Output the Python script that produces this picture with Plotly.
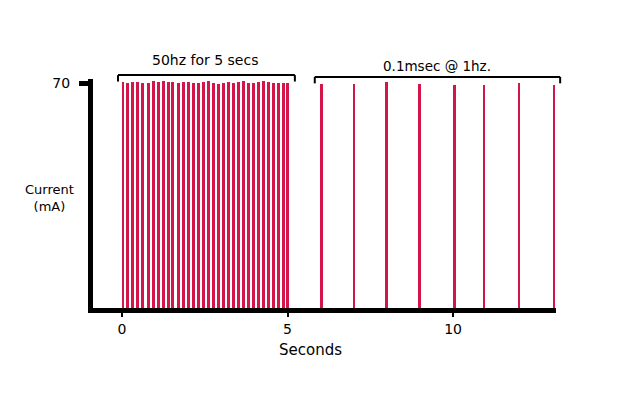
import plotly.graph_objects as go

# Pulse train 1: "50hz for 5 secs" (drawn pulses)
train1_t = [0.03, 0.18, 0.33, 0.48, 0.63, 0.79, 0.94, 1.09, 1.24, 1.39, 1.54, 1.70,
            1.85, 2.00, 2.15, 2.30, 2.45, 2.61, 2.76, 2.91, 3.06, 3.21, 3.36, 3.52,
            3.67, 3.82, 3.97, 4.12, 4.27, 4.42, 4.58, 4.73, 4.88, 5.00]
train1_mA = [70.2, 70.0, 70.3, 70.4, 70.1, 69.9, 70.5, 70.4, 70.6, 70.2, 70.3, 70.0,
             70.4, 70.3, 69.9, 70.0, 70.2, 70.6, 70.1, 69.8, 69.9, 70.3, 70.1, 70.4,
             70.5, 70.1, 69.9, 70.3, 70.6, 70.2, 69.9, 70.1, 69.9, 70.0]

# Pulse train 2: "0.1msec @ 1hz."
train2_t = [6.03, 7.01, 7.98, 8.98, 10.04, 10.94, 11.99, 13.05]
train2_mA = [69.8, 69.8, 70.4, 69.6, 69.3, 69.4, 69.9, 69.5]

x_ticks = [0, 5, 10]
x_ticklabels = ["0", "5", "10"]
y_ticks = [70]
y_ticklabels = ["70"]

RED = "#D3154A"
FONT = "DejaVu Sans"

fig = go.Figure()
fig.add_trace(go.Bar(x=train1_t, y=train1_mA, width=0.09,
                     marker=dict(color=RED, line=dict(width=0))))
fig.add_trace(go.Bar(x=train2_t, y=train2_mA, width=0.08,
                     marker=dict(color=RED, line=dict(width=0))))

fig.update_layout(
    width=604, height=388,
    margin=dict(l=85, r=56, t=71, b=88),
    paper_bgcolor="white", plot_bgcolor="white",
    showlegend=False, bargap=0,
    font=dict(family=FONT, size=14, color="black"),
    xaxis=dict(range=[-0.876, 13.11], showgrid=False, zeroline=False,
               showline=True, linewidth=5, linecolor="black",
               tickvals=x_ticks, ticktext=x_ticklabels,
               ticks="outside", ticklen=4, tickwidth=2, tickcolor="black",
               tickfont=dict(size=14, family=FONT)),
    yaxis=dict(range=[0, 71.25], showgrid=False, zeroline=False,
               showline=True, linewidth=5, linecolor="black",
               tickvals=y_ticks, ticktext=y_ticklabels,
               ticks="outside", ticklen=9, tickwidth=5, tickcolor="black",
               ticklabelstandoff=6,
               tickfont=dict(size=14, family=FONT)),
)

# brackets above pulse groups
for x0, x1, yb in [(0.054, 0.436, 1.017), (0.479, 1.009, 1.009)]:
    fig.add_shape(type="line", xref="paper", yref="paper",
                  x0=x0, x1=x1, y0=yb, y1=yb, line=dict(color="black", width=2))
    for xe in (x0, x1):
        fig.add_shape(type="line", xref="paper", yref="paper",
                      x0=xe, x1=xe, y0=yb, y1=yb - 0.028, line=dict(color="black", width=2))

ann = dict(xref="paper", yref="paper", showarrow=False, xanchor="center", yanchor="middle")
fig.add_annotation(x=0.242, y=1.083, text="50hz for 5 secs", font=dict(size=14), **ann)
fig.add_annotation(x=0.743, y=1.057, text="0.1msec @ 1hz.", font=dict(size=13.5), **ann)
fig.add_annotation(x=-0.093, y=0.48, text="Current<br>(mA)", font=dict(size=13), **ann)
fig.add_annotation(x=0.469, y=-0.183, text="Seconds", font=dict(size=15), **ann)

fig.write_html("out.html")
